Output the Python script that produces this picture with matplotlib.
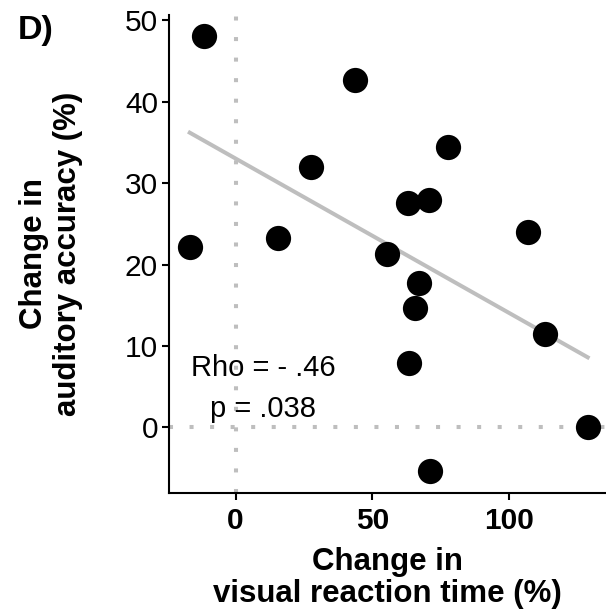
import numpy as np
import matplotlib
matplotlib.use("Agg")
import matplotlib.pyplot as plt

plt.rcParams['font.family'] = ['Liberation Sans', 'DejaVu Sans']

# data
rt_change = [-11.5, 43.7, 27.7, 77.9, 63.1, 70.8, -16.8, 15.6, 55.4,
             107.0, 67.3, 65.6, 63.5, 113.3, 128.9, 71.2]
acc_change = [48.0, 42.7, 32.0, 34.4, 27.6, 27.9, 22.1, 23.2, 21.3,
              24.0, 17.7, 14.7, 7.9, 11.5, 0.0, -5.3]
x_ticks = [0, 50, 100]
y_ticks = [0, 10, 20, 30, 40, 50]
rho_text = "Rho = - .46"
p_text = "p = .038"

x = np.array(rt_change)
y = np.array(acc_change)

fig = plt.figure(figsize=(6.06, 6.09), dpi=100)
ax = fig.add_axes([0.2789, 0.191, 0.7211, 0.784])

grey = '#BEBEBE'
ax.axvline(0, color=grey, lw=2.9, linestyle=(0, (1, 4.1)), zorder=1)
ax.axhline(0, color=grey, lw=2.9, linestyle=(0, (1, 4.1)), zorder=1)

# linear fit
slope, icpt = np.polyfit(x, y, 1)
xs = np.array([x.min(), x.max()])
ax.plot(xs, slope * xs + icpt, color=grey, lw=2.9, zorder=2)

ax.scatter(x, y, s=330, color='black', zorder=3, linewidths=0)

ax.text(10, 7.3, rho_text, ha='center', va='center', fontsize=21, zorder=4)
ax.text(10, 2.3, p_text, ha='center', va='center', fontsize=21, zorder=4)

ax.set_xlim(-24.4, 135.6)
ax.set_ylim(-8.0, 50.6)
ax.set_xticks(x_ticks)
ax.set_yticks(y_ticks)
ax.tick_params(axis='both', width=1.5, length=5, color='black',
               labelsize=21.5, pad=3)
ax.tick_params(axis='x', pad=5)
for lab in ax.get_xticklabels():
    lab.set_fontweight('bold')

for s in ['top', 'right']:
    ax.spines[s].set_visible(False)
for s in ['left', 'bottom']:
    ax.spines[s].set_linewidth(1.5)

ax.set_xlabel("Change in\nvisual reaction time (%)", fontsize=22.5,
              fontweight='bold', linespacing=1.1, labelpad=9)
ax.set_ylabel("Change in\nauditory accuracy (%)", fontsize=22.5,
              fontweight='bold', linespacing=1.2, labelpad=30)

fig.text(0.03, 0.95, "D)", fontsize=24.5, fontweight='bold', va='center')

fig.savefig("out.png", dpi=100)
